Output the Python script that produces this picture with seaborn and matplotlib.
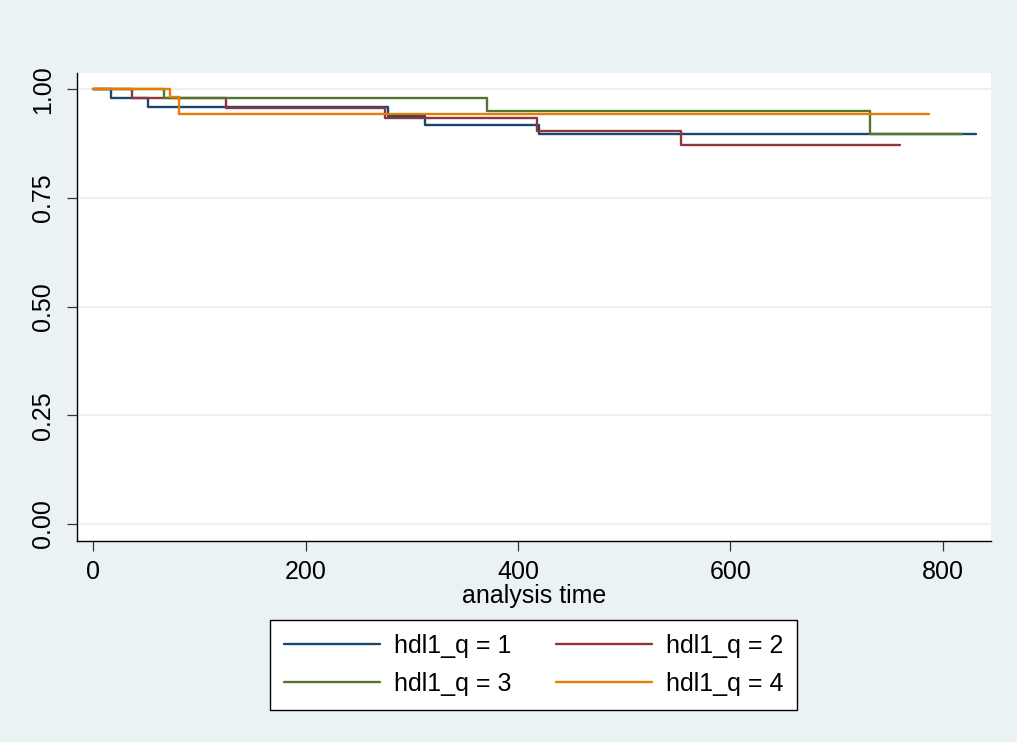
import numpy as np
import pandas as pd
import matplotlib
matplotlib.use("Agg")
import matplotlib.pyplot as plt
import seaborn as sns

# Kaplan-Meier survival estimates by HDL quartile (step functions)
time_q1 = [0, 17, 52, 278, 312, 420, 831]
surv_q1 = [1.0, 0.980, 0.960, 0.939, 0.918, 0.898, 0.898]

time_q2 = [0, 37, 125, 275, 418, 553, 760]
surv_q2 = [1.0, 0.980, 0.957, 0.933, 0.905, 0.872, 0.872]

time_q3 = [0, 67, 371, 731, 818]
surv_q3 = [1.0, 0.979, 0.951, 0.897, 0.897]

time_q4 = [0, 72, 81, 787]
surv_q4 = [1.0, 0.983, 0.944, 0.944]

group_labels = ["hdl1_q = 1", "hdl1_q = 2", "hdl1_q = 3", "hdl1_q = 4"]
x_ticks = [0, 200, 400, 600, 800]
y_ticks = [0.00, 0.25, 0.50, 0.75, 1.00]

colors = ["#1a476f", "#90353b", "#55752f", "#e37e00"]
bg = "#eaf2f3"

frames = []
for lab, t, s in zip(group_labels,
                     [time_q1, time_q2, time_q3, time_q4],
                     [surv_q1, surv_q2, surv_q3, surv_q4]):
    frames.append(pd.DataFrame({"time": t, "surv": s, "group": lab}))
df = pd.concat(frames, ignore_index=True)

sns.set_theme(style="white")
plt.rcParams["font.family"] = ["Liberation Sans", "DejaVu Sans"]
plt.rcParams["text.color"] = "black"

fig = plt.figure(figsize=(10.17, 7.42), dpi=100, facecolor=bg)
ax = fig.add_axes([77 / 1017, 1 - 541 / 742, (991 - 77) / 1017, (541 - 73) / 742])
ax.set_facecolor("white")

# light horizontal gridlines
for yv in y_ticks:
    ax.axhline(yv, color=bg, lw=1.6, zorder=0)

sns.lineplot(data=df, x="time", y="surv", hue="group", palette=colors,
             drawstyle="steps-post", estimator=None, sort=False,
             linewidth=1.7, ax=ax, legend=False)

ax.set_xlim(-15.1, 845.2)
ax.set_ylim(-0.0392, 1.0375)
ax.set_xticks(x_ticks)
ax.set_xticklabels([str(v) for v in x_ticks])
ax.set_yticks(y_ticks)
ax.set_yticklabels([f"{v:.2f}" for v in y_ticks], rotation=90, va="center")

for side in ["top", "right"]:
    ax.spines[side].set_visible(False)
for side in ["left", "bottom"]:
    ax.spines[side].set_color("black")
    ax.spines[side].set_linewidth(1.0)

ax.tick_params(axis="both", which="major", length=7.5, width=0.9,
               color="#333333", labelsize=18, labelcolor="black",
               left=True, bottom=True)
ax.tick_params(axis="y", pad=8)
ax.tick_params(axis="x", pad=6)
ax.set_xlabel("analysis time", fontsize=18, labelpad=0, color="black")
ax.set_ylabel("")

# legend filled row by row: (1, 2) on top, (3, 4) below
handles = [plt.Line2D([], [], color=c, lw=1.7) for c in colors]
order = [0, 2, 1, 3]
leg = fig.legend([handles[i] for i in order], [group_labels[i] for i in order],
                 ncol=2, loc="center",
                 bbox_to_anchor=(533.5 / 1017, 1 - 665 / 742),
                 fontsize=18, frameon=True, fancybox=False, framealpha=1.0,
                 handlelength=3.84, handletextpad=0.56, columnspacing=1.76,
                 borderpad=0.55, labelspacing=0.55, borderaxespad=0)
leg.get_frame().set_edgecolor("black")
leg.get_frame().set_linewidth(1.0)
leg.get_frame().set_facecolor("white")
for txt in leg.get_texts():
    txt.set_color("black")

fig.savefig("out.png", dpi=100, facecolor=bg)
